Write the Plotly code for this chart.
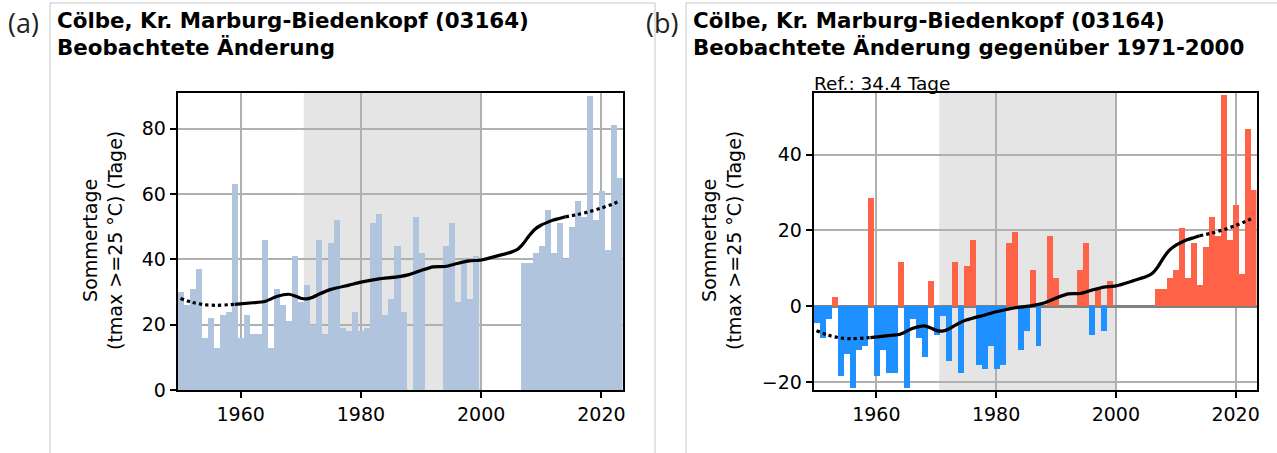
import plotly.graph_objects as go

# ---------------- data ----------------
years = list(range(1950, 2024))
sommertage = [
    30, 26, 31, 37, 16, 22, 13, 23, 24, 63,   # 1950-1959
    16, 23, 17, 17, 46, 13, 31, 26, 21, 41,   # 1960-1969
    27, 32, 20, 46, 17, 45, 52, 19, 18, 24,   # 1970-1979
    18, 19, 51, 54, 23, 28, 44, 24, None, 53, # 1980-1989
    42, None, None, None, 44, 51, 27, 39, 28, 41,  # 1990-1999
    None, None, None, None, None, None, None, 39, 39, 42,  # 2000-2009
    44, 55, 42, 51, 40, 50, 58, 53, 90, 52,   # 2010-2019
    61, 43, 81, 65,                            # 2020-2023
]
ref_value = 34.4
ref_period = (1971, 2000)

# smoothed curve (absolute values)
trend_years = [1950, 1952, 1954, 1956, 1958, 1959, 1962, 1964, 1966, 1968, 1969,
               1970, 1971, 1972, 1973, 1975, 1978, 1980, 1983, 1986, 1988, 1990,
               1992, 1994, 1996, 1998, 2000, 2003, 2005, 2006, 2007, 2008, 2009,
               2010, 2011, 2012, 2013, 2014, 2016, 2018, 2020, 2022, 2023]
trend_vals = [28.0, 26.8, 26.1, 25.9, 26.1, 26.2, 26.7, 27.1, 28.6, 29.3, 28.8,
              28.1, 27.9, 28.4, 29.3, 30.8, 32.1, 33.0, 34.0, 34.6, 35.3, 36.6,
              37.7, 37.8, 38.7, 39.5, 39.8, 41.2, 42.2, 43.0, 44.8, 47.3, 49.3,
              50.5, 51.3, 52.0, 52.5, 53.0, 53.7, 54.6, 55.7, 57.0, 57.8]
solid_start, solid_end = 1959, 2014

x_ticks = [1960, 1980, 2000, 2020]
y_ticks_a = [0, 20, 40, 60, 80]
y_ticks_b = [-20, 0, 20, 40]

title_line1 = "Cölbe, Kr. Marburg-Biedenkopf (03164)"
title_a2 = "Beobachtete Änderung"
title_b2 = "Beobachtete Änderung gegenüber 1971-2000"
ylabel = "Sommertage<br>(tmax >=25 °C) (Tage)"
ref_text = "Ref.: 34.4 Tage"

# ---------------- derived ----------------
anomaly = [None if v is None else v - ref_value for v in sommertage]
anom_colors = ["#ff6347" if (a is not None and a >= 0) else "#1e90ff" for a in anomaly]
trend_anom = [v - ref_value for v in trend_vals]

W, H = 1277, 453
def px(x):
    return x / W
def py(y):
    return 1 - y / H

FONT = "DejaVu Sans"
BLUE_LIGHT = "#b0c4de"
GRID = "#b0b0b0"

fig = go.Figure()

fig.add_trace(go.Bar(x=years, y=sommertage, width=1, marker=dict(color=BLUE_LIGHT, line=dict(width=0)),
                     xaxis="x", yaxis="y", hoverinfo="x+y"))
fig.add_trace(go.Bar(x=years, y=anomaly, width=1, marker=dict(color=anom_colors, line=dict(width=0)),
                     xaxis="x2", yaxis="y2", hoverinfo="x+y"))

def add_trend(vals, xa, ya):
    pre = [(t, v) for t, v in zip(trend_years, vals) if t <= solid_start]
    mid = [(t, v) for t, v in zip(trend_years, vals) if solid_start <= t <= solid_end]
    post = [(t, v) for t, v in zip(trend_years, vals) if t >= solid_end]
    for seg, dash in ((pre, "dot"), (mid, "solid"), (post, "dot")):
        fig.add_trace(go.Scatter(x=[s[0] for s in seg], y=[s[1] for s in seg], mode="lines",
                                 line=dict(color="black", width=3.2, dash=dash, shape="spline", smoothing=0.6),
                                 xaxis=xa, yaxis=ya, hoverinfo="skip"))

add_trend(trend_vals, "x", "y")
add_trend(trend_anom, "x2", "y2")

axis_common = dict(showline=True, mirror=True, linecolor="black", linewidth=1.5,
                   ticks="outside", ticklen=6, tickwidth=1.5, tickcolor="black",
                   showgrid=True, gridcolor=GRID, gridwidth=1.5, automargin=False,
                   tickfont=dict(family=FONT, size=19, color="black"))

ydom = [py(390), py(93)]
fig.update_layout(
    width=W, height=H, autosize=False, margin=dict(l=0, r=0, t=0, b=0, pad=0),
    paper_bgcolor="white", plot_bgcolor="white", showlegend=False,
    bargap=0,
    xaxis=dict(domain=[px(177.5), px(622.5)], range=[1949.5, 2023.5], tickvals=x_ticks,
               zeroline=False, anchor="y", **axis_common),
    yaxis=dict(domain=ydom, range=[0, 90.9], tickvals=y_ticks_a, zeroline=False,
               anchor="x", **axis_common),
    xaxis2=dict(domain=[px(813.5), px(1256.5)], range=[1949.5, 2023.5], tickvals=x_ticks,
                zeroline=False, anchor="y2", **axis_common),
    yaxis2=dict(domain=ydom, range=[-22.0, 56.2], tickvals=y_ticks_b, zeroline=True,
                zerolinecolor="#808080", zerolinewidth=2.5, anchor="x2", **axis_common),
)

shapes = []
for xr in ("x", "x2"):
    shapes.append(dict(type="rect", xref=xr, yref=("y" if xr == "x" else "y2") + " domain",
                       x0=ref_period[0] - 0.5, x1=ref_period[1], y0=0, y1=1,
                       fillcolor="#e5e5e5", line=dict(width=0), layer="below"))
shapes.append(dict(type="rect", xref="paper", yref="paper", x0=px(50), x1=px(655), y0=py(470), y1=py(3),
                   line=dict(color="#c8c8c8", width=1), fillcolor="rgba(0,0,0,0)", layer="below"))
shapes.append(dict(type="rect", xref="paper", yref="paper", x0=px(686), x1=px(1300), y0=py(470), y1=py(3),
                   line=dict(color="#c8c8c8", width=1), fillcolor="rgba(0,0,0,0)", layer="below"))
fig.update_layout(shapes=shapes)

ann = []
def text(x, y, s, size, xanchor="left", yanchor="middle", bold=False, family=FONT, angle=0, color="black"):
    ann.append(dict(xref="paper", yref="paper", x=px(x), y=py(y), text=(f"<b>{s}</b>" if bold else s),
                    showarrow=False, xanchor=xanchor, yanchor=yanchor, textangle=angle,
                    font=dict(family=family, size=size, color=color)))

text(6, 22, "(a)", 27, family="Open Sans", color="#222")
text(644, 22, "(b)", 27, family="Open Sans", color="#222")
text(55, 20, title_line1, 21.4, bold=True)
text(55, 48, title_a2, 21.4, bold=True)
text(691, 20, title_line1, 21.4, bold=True)
text(691, 48, title_b2, 21.4, bold=True)
text(812, 83, ref_text, 18.5)
text(102, 241, ylabel, 19, xanchor="center", angle=-90)
text(721, 241, ylabel, 19, xanchor="center", angle=-90)
fig.update_layout(annotations=ann)

fig.write_html("out.html", config={"displayModeBar": False},
               post_script="document.body.style.margin='0';document.body.style.overflow='hidden';")
